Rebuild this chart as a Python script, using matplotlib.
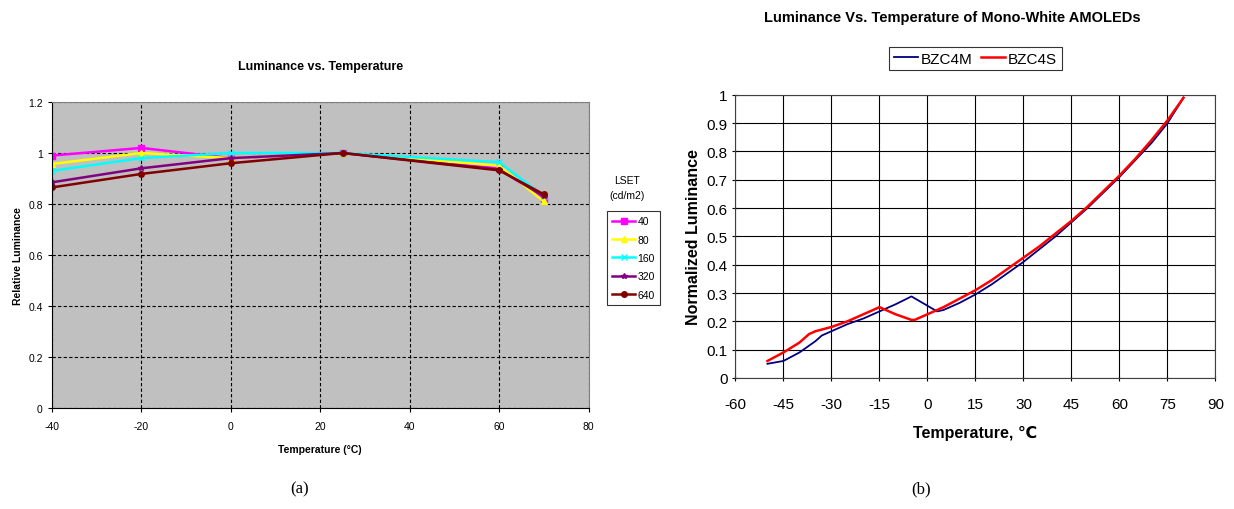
import matplotlib
matplotlib.use("Agg")
import matplotlib.pyplot as plt

plt.rcParams['font.family'] = ['Liberation Sans', 'DejaVu Sans']
plt.rcParams['axes.unicode_minus'] = False

# (a) relative luminance vs temperature
temp_a = [-40, -20, 0, 25, 60, 70]
lset_labels = ['40', '80', '160', '320', '640']
lum_40 = [0.99, 1.02, 0.98, 1.0, 0.94, 0.82]
lum_80 = [0.957, 1.0, 0.98, 1.0, 0.95, 0.81]
lum_160 = [0.93, 0.98, 1.0, 1.0, 0.964, 0.83]
lum_320 = [0.885, 0.94, 0.98, 1.0, 0.935, 0.83]
lum_640 = [0.865, 0.918, 0.96, 1.0, 0.932, 0.838]

# (b) normalized luminance of mono-white AMOLEDs
temp_m = [-50, -45, -40, -35, -33, -30, -25, -20, -15, -10, -5, 0, 3, 5, 10, 15,
          20, 25, 30, 35, 40, 45, 50, 55, 60, 65, 70, 75, 80]
lum_m = [0.05, 0.06, 0.09, 0.13, 0.15, 0.165, 0.19, 0.21, 0.235, 0.26, 0.288, 0.255,
         0.235, 0.24, 0.265, 0.295, 0.33, 0.37, 0.41, 0.455, 0.5, 0.55, 0.6, 0.655,
         0.71, 0.77, 0.83, 0.9, 0.99]
temp_s = [-50, -45, -40, -37, -35, -30, -25, -20, -15, -10, -5, -4, 0, 5, 10, 15,
          20, 25, 30, 35, 40, 45, 50, 55, 60, 65, 70, 75, 80]
lum_s = [0.06, 0.09, 0.125, 0.155, 0.165, 0.18, 0.2, 0.225, 0.25, 0.225, 0.205, 0.205,
         0.225, 0.25, 0.28, 0.31, 0.345, 0.385, 0.425, 0.465, 0.51, 0.555, 0.605, 0.66,
         0.715, 0.775, 0.84, 0.91, 0.99]

fig = plt.figure(figsize=(12.34, 5.1), dpi=100)

# ---- left chart
ax1 = fig.add_axes([0.042, 0.198, 0.435, 0.6])
ax1.set_facecolor('#c0c0c0')
styles = [('#ff00ff', 's'), ('#ffff00', '^'), ('#00ffff', 'x'), ('#800080', '*'), ('#800000', 'o')]
series = [lum_40, lum_80, lum_160, lum_320, lum_640]
for vals, lab, (c, m) in zip(series, lset_labels, styles):
    ax1.plot(temp_a, vals, color=c, marker=m, markersize=4, lw=1.8, label=lab)
ax1.set_xlim(-40, 80)
ax1.set_ylim(0, 1.2)
ax1.set_xticks(range(-40, 81, 20))
ax1.set_yticks([0, 0.2, 0.4, 0.6, 0.8, 1.0, 1.2])
ax1.set_yticklabels(['0', '0.2', '0.4', '0.6', '0.8', '1', '1.2'])
ax1.tick_params(labelsize=7.5, length=3)
ax1.tick_params(axis='x', pad=6)
ax1.grid(True, color='black', ls=(0, (3, 2)), lw=0.8)
for s in ['top', 'right']:
    ax1.spines[s].set_color('#808080')
ax1.set_xlabel('Temperature (°C)', fontsize=7.5, fontweight='bold', labelpad=10)
ax1.set_ylabel('Relative Luminance', fontsize=7.5, fontweight='bold')
ax1.set_title('Luminance vs. Temperature', fontsize=9, fontweight='bold', pad=24)
fig.text(0.508, 0.63, 'LSET\n(cd/m2)', fontsize=7.5, ha='center', va='center', linespacing=1.6)
leg1 = ax1.legend(loc='upper left', bbox_to_anchor=(1.025, 0.66), fontsize=7.5,
                  frameon=True, fancybox=False, edgecolor='black', handlelength=2.2,
                  handletextpad=0.2, borderpad=0.5, labelspacing=0.8)
leg1.get_frame().set_linewidth(0.8)

# ---- right chart
ax2 = fig.add_axes([0.596, 0.257, 0.389, 0.555])
ax2.plot(temp_m, lum_m, color='#000080', lw=1.3, label='BZC4M')
ax2.plot(temp_s, lum_s, color='#ff0000', lw=1.8, label='BZC4S')
ax2.set_xlim(-60, 90)
ax2.set_ylim(0, 1)
ax2.set_xticks(range(-60, 91, 15))
ax2.set_yticks([0, 0.1, 0.2, 0.3, 0.4, 0.5, 0.6, 0.7, 0.8, 0.9, 1.0])
ax2.set_yticklabels(['0', '0.1', '0.2', '0.3', '0.4', '0.5', '0.6', '0.7', '0.8', '0.9', '1'])
ax2.tick_params(labelsize=11, length=4, direction='inout')
ax2.tick_params(axis='x', pad=12)
ax2.grid(True, color='black', lw=0.8)
for s in ax2.spines.values():
    s.set_color('#404040')
ax2.set_xlabel('Temperature, ℃', fontsize=11.5, fontweight='bold', labelpad=10)
ax2.set_ylabel('Normalized Luminance', fontsize=11.5, fontweight='bold')
fig.text(0.772, 0.965, 'Luminance Vs. Temperature of Mono-White AMOLEDs', fontsize=10.5,
         fontweight='bold', ha='center', va='center')
leg2 = ax2.legend(loc='lower center', bbox_to_anchor=(0.5, 1.06), ncol=2, fontsize=11,
                  frameon=True, fancybox=False, edgecolor='black', handlelength=1.6,
                  handletextpad=0.2, columnspacing=0.5, borderpad=0.3)
leg2.get_frame().set_linewidth(0.8)

fig.text(0.243, 0.033, '(a)', fontsize=12, family='Liberation Serif', ha='center')
fig.text(0.746, 0.033, '(b)', fontsize=12, family='Liberation Serif', ha='center')

fig.savefig('out.png', dpi=100)
